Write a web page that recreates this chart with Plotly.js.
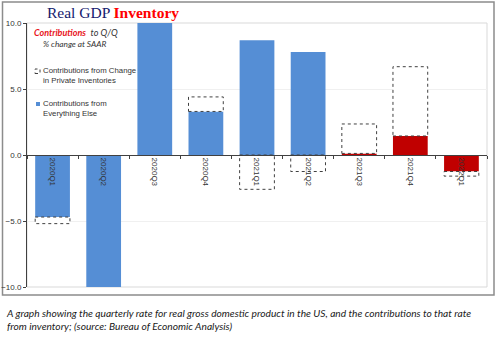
<!DOCTYPE html>
<html><head><meta charset="utf-8">
<script src="https://cdn.plot.ly/plotly-3.0.1.min.js"></script>
<style>html,body{margin:0;padding:0;background:#fff}#chart{width:500px;height:338px}</style>
</head><body><div id="chart"></div>
<script>
// ---- data ----
const quarters = ['2020Q1','2020Q2','2020Q3','2020Q4','2021Q1','2021Q2','2021Q3','2021Q4','2022Q1'];
const everythingElse = [-4.7, -27.7, 27.2, 3.3, 8.7, 7.8, 0.12, 1.44, -1.25];
const inventories = [-0.5, -3.5, 6.6, 1.1, -2.6, -1.25, 2.23, 5.25, -0.35];
const highlightFrom = '2021Q3';
const yTicks = [-10, -5, 0, 5, 10];

// ---- geometry helpers ----
const W = 500, H = 338, mL = 27, mR = 13, mT = 23, mB = 51;
const pw = W - mL - mR, ph = H - mT - mB;
const px = x => (x - mL) / pw;
const py = y => (H - mB - y) / ph;
const yRange = [-10, 10];
const barW = 0.68;

const hiIdx = quarters.indexOf(highlightFrom);
const eeColors = quarters.map((q, i) => i >= hiIdx ? '#c00000' : '#558ed5');

const traces = [
  {type: 'bar', x: quarters, y: everythingElse, marker: {color: eeColors, line: {width: 0}},
   showlegend: false, hoverinfo: 'x+y'},
  {type: 'bar', x: quarters, y: inventories, marker: {color: '#ffffff', line: {width: 0}},
   showlegend: false, hoverinfo: 'x+y'}
];

const clamp = v => Math.max(yRange[0], Math.min(yRange[1], v));
const shapes = [];
// dotted outlines of inventory segments, derived from the data and stacked like the bars
quarters.forEach((q, i) => {
  const ee = everythingElse[i], inv = inventories[i];
  const base = (inv >= 0) ? Math.max(ee, 0) : Math.min(ee, 0);
  const y0 = clamp(base), y1 = clamp(base + inv);
  if (Math.abs(y1 - y0) < 1e-9) return;
  shapes.push({type: 'rect', xref: 'x', yref: 'y', x0: i - barW / 2, x1: i + barW / 2, y0: y0, y1: y1,
    line: {color: '#404040', width: 1, dash: 'dot'}, fillcolor: 'rgba(0,0,0,0)', layer: 'above'});
});
// plot area border
shapes.push({type: 'rect', xref: 'paper', yref: 'paper', x0: 0, x1: 1, y0: 0, y1: 1,
  line: {color: '#d9d9d9', width: 1}, layer: 'below'});
// outer chart frame
shapes.push({type: 'rect', xref: 'paper', yref: 'paper', x0: px(2.5), x1: px(494), y0: py(295), y1: py(2),
  line: {color: '#8c8c8c', width: 1.5}, layer: 'below'});
// legend symbols
shapes.push({type: 'rect', xref: 'paper', yref: 'paper', x0: px(35), x1: px(40), y0: py(73.5), y1: py(69),
  line: {color: '#404040', width: 1, dash: 'dot'}, fillcolor: '#fff', layer: 'above'});
shapes.push({type: 'rect', xref: 'paper', yref: 'paper', x0: px(36), x1: px(40), y0: py(106), y1: py(102),
  line: {width: 0}, fillcolor: '#558ed5', layer: 'above'});

const legFont = {family: 'Liberation Sans, Arial, sans-serif', size: 7.8, color: '#333'};
const annotations = [
  {xref: 'paper', yref: 'paper', x: px(32), y: py(33), xanchor: 'left', yanchor: 'middle', showarrow: false,
   text: '<span style="color:#e8141b"><b><i>Contributions</i></b></span>  <i>to Q/Q</i>',
   font: {family: 'Lato, Liberation Sans, sans-serif', size: 9, color: '#333'}},
  {xref: 'paper', yref: 'paper', x: px(41), y: py(43.5), xanchor: 'left', yanchor: 'middle', showarrow: false,
   text: '<i>% change at SAAR</i>',
   font: {family: 'Lato, Liberation Sans, sans-serif', size: 8.3, color: '#333'}},
  {xref: 'paper', yref: 'paper', x: px(40.5), y: py(75.5), xanchor: 'left', yanchor: 'middle', showarrow: false, align: 'left',
   text: 'Contributions from Change<br>in Private Inventories', font: legFont},
  {xref: 'paper', yref: 'paper', x: px(40.5), y: py(108.5), xanchor: 'left', yanchor: 'middle', showarrow: false, align: 'left',
   text: 'Contributions from<br>Everything Else', font: legFont},
  {xref: 'paper', yref: 'paper', x: px(4), y: py(319.5), xanchor: 'left', yanchor: 'middle', showarrow: false, align: 'left',
   text: '<i>A graph showing the quarterly rate for real gross domestic product in the US, and the contributions to that rate<br>from inventory; (source: Bureau of Economic Analysis)</i>',
   font: {family: 'Lato, Liberation Sans, sans-serif', size: 10.2, color: '#1a1a1a'}}
];

const layout = {
  width: W, height: H, margin: {l: mL, r: mR, t: mT, b: mB, pad: 0},
  paper_bgcolor: '#ffffff', plot_bgcolor: '#ffffff',
  barmode: 'relative', bargap: 1 - barW,
  showlegend: false,
  title: {text: '<span style="color:#14206e">Real GDP</span> <span style="color:#ff0000"><b>Inventory</b></span>',
    font: {family: 'Liberation Serif, Times New Roman, serif', size: 15.5},
    xref: 'container', yref: 'container', x: 113 / W, y: 1 - 12.5 / H, xanchor: 'center', yanchor: 'middle'},
  xaxis: {type: 'category', anchor: 'free', position: 0.5, showline: true, linecolor: '#404040', linewidth: 1,
    ticks: 'outside', tickson: 'boundaries', ticklen: 3, tickcolor: '#404040', tickangle: 90,
    tickfont: {family: 'Liberation Sans, Arial, sans-serif', size: 8, color: '#333'},
    showgrid: false, zeroline: false, fixedrange: true},
  yaxis: {range: yRange, tickvals: yTicks, tickformat: '.1f', showline: true, linecolor: '#404040', linewidth: 1,
    ticks: 'outside', ticklen: 3, tickcolor: '#404040',
    tickfont: {family: 'Liberation Sans, Arial, sans-serif', size: 8, color: '#333'},
    showgrid: true, gridcolor: '#f0f0f0', zeroline: false, fixedrange: true},
  shapes: shapes, annotations: annotations
};

Plotly.newPlot('chart', traces, layout, {staticPlot: true, displayModeBar: false});
</script></body></html>
